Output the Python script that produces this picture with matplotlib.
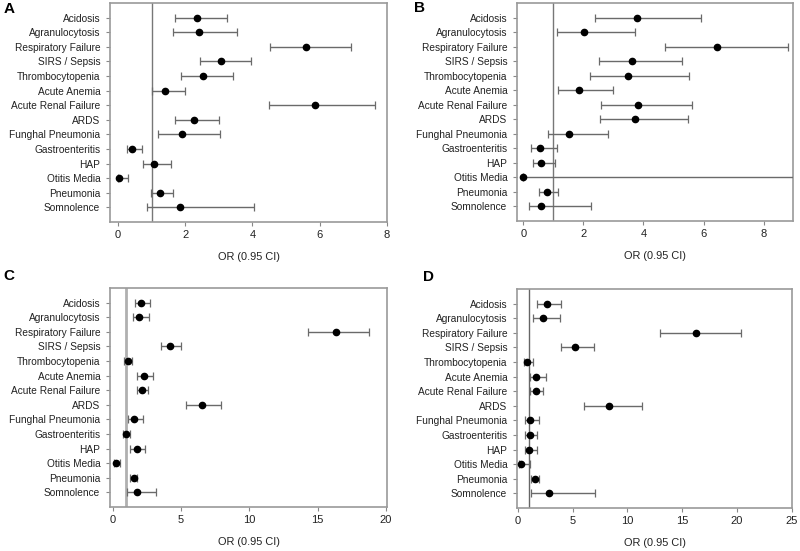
import matplotlib
matplotlib.use("Agg")
import matplotlib.pyplot as plt
import numpy as np

plt.rcParams['font.family'] = ['Liberation Sans', 'DejaVu Sans']

labels = ["Acidosis", "Agranulocytosis", "Respiratory Failure", "SIRS / Sepsis",
          "Thrombocytopenia", "Acute Anemia", "Acute Renal Failure", "ARDS",
          "Funghal Pneumonia", "Gastroenteritis", "HAP", "Otitis Media",
          "Pneumonia", "Somnolence"]

# panel A
or_a = [2.34, 2.40, 5.60, 3.08, 2.52, 1.40, 5.86, 2.27, 1.91, 0.43, 1.06, 0.04, 1.25, 1.85]
lo_a = [1.69, 1.63, 4.54, 2.44, 1.87, 1.01, 4.51, 1.69, 1.19, 0.27, 0.73, 0.00, 0.97, 0.85]
hi_a = [3.24, 3.55, 6.94, 3.97, 3.43, 1.98, 7.66, 3.02, 3.04, 0.70, 1.59, 0.30, 1.64, 4.06]

# panel B (Otitis Media upper bound runs off the axis)
or_b = [3.78, 2.01, 6.44, 3.62, 3.49, 1.87, 3.81, 3.73, 1.51, 0.56, 0.59, 0.00, 0.80, 0.60]
lo_b = [2.39, 1.11, 4.72, 2.51, 2.21, 1.17, 2.60, 2.57, 0.81, 0.26, 0.33, 0.00, 0.53, 0.20]
hi_b = [5.92, 3.72, 8.80, 5.28, 5.52, 2.97, 5.61, 5.47, 2.83, 1.12, 1.06, 15.0, 1.17, 2.26]

# panel C
or_c = [2.10, 1.95, 16.37, 4.20, 1.12, 2.32, 2.15, 6.51, 1.56, 0.98, 1.76, 0.27, 1.54, 1.80]
lo_c = [1.63, 1.46, 14.27, 3.54, 0.85, 1.80, 1.76, 5.37, 1.10, 0.73, 1.29, 0.10, 1.29, 1.05]
hi_c = [2.71, 2.66, 18.76, 4.98, 1.44, 2.98, 2.61, 7.93, 2.20, 1.27, 2.39, 0.54, 1.76, 3.20]

# panel D
or_d = [2.62, 2.25, 16.29, 5.18, 0.85, 1.64, 1.64, 8.34, 1.10, 1.10, 1.04, 0.27, 1.52, 2.86]
lo_d = [1.77, 1.34, 12.97, 3.93, 0.55, 1.07, 1.13, 6.06, 0.61, 0.64, 0.61, 0.08, 1.19, 1.16]
hi_d = [3.96, 3.87, 20.34, 6.97, 1.37, 2.56, 2.31, 11.36, 1.95, 1.77, 1.71, 1.10, 1.89, 7.06]

W, H = 800, 551
fig = plt.figure(figsize=(8, 5.51), dpi=100)

panels = [
    # letter, data, box (l, r, top, bottom in px), xlim, xticks, letter pos, ref line style
    ("A", (or_a, lo_a, hi_a), (110, 387, 3, 222), (-0.24, 8.01), [0, 2, 4, 6, 8], (9, 9), ("#777777", 1.0)),
    ("B", (or_b, lo_b, hi_b), (517, 793, 3, 221), (-0.21, 8.98), [0, 2, 4, 6, 8], (419, 8), ("#777777", 1.0)),
    ("C", (or_c, lo_c, hi_c), (110, 387, 288, 507), (-0.2, 20.07), [0, 5, 10, 15, 20], (9, 276), ("#b0b0b0", 2.0)),
    ("D", (or_d, lo_d, hi_d), (517, 792, 289, 508), (-0.08, 25.03), [0, 5, 10, 15, 20, 25], (428, 277), ("#666666", 1.0)),
]

ypos = np.arange(len(labels), 0, -1)

for letter, (orv, lo, hi), (l, r, t, b), xl, xt, (lx, ly), (rc, rw) in panels:
    ax = fig.add_axes([l / W, 1 - b / H, (r - l) / W, (b - t) / H])
    orv = np.array(orv)
    err = [orv - np.array(lo), np.array(hi) - orv]
    ax.axvline(1, color=rc, lw=rw, zorder=1)
    ax.errorbar(orv, ypos, xerr=err, fmt='o', color='black', ms=4.5,
                ecolor='#6a6a6a', elinewidth=1.0, capsize=2.8, capthick=0.9, zorder=3)
    ax.set_xlim(*xl)
    ax.set_ylim(0, len(labels) + 1)
    ax.set_yticks(ypos)
    ax.set_yticklabels(labels, fontsize=7.3, color='#222222')
    ax.set_xticks(xt)
    ax.set_xticklabels([str(v) for v in xt], fontsize=8.0, color='#222222')
    ax.tick_params(axis='both', length=3, width=0.8, color='#888888')
    ax.tick_params(axis='x', pad=3)
    ax.tick_params(axis='y', pad=4)
    for s in ax.spines.values():
        s.set_color('#9a9a9a')
        s.set_linewidth(1.2)
    ax.set_xlabel("OR (0.95 CI)", fontsize=7.9, color='#222222', labelpad=8.5)
    fig.text(lx / W, 1 - ly / H, letter, fontsize=11, fontweight='bold',
             ha='center', va='center')

fig.savefig("out.png", dpi=100)
